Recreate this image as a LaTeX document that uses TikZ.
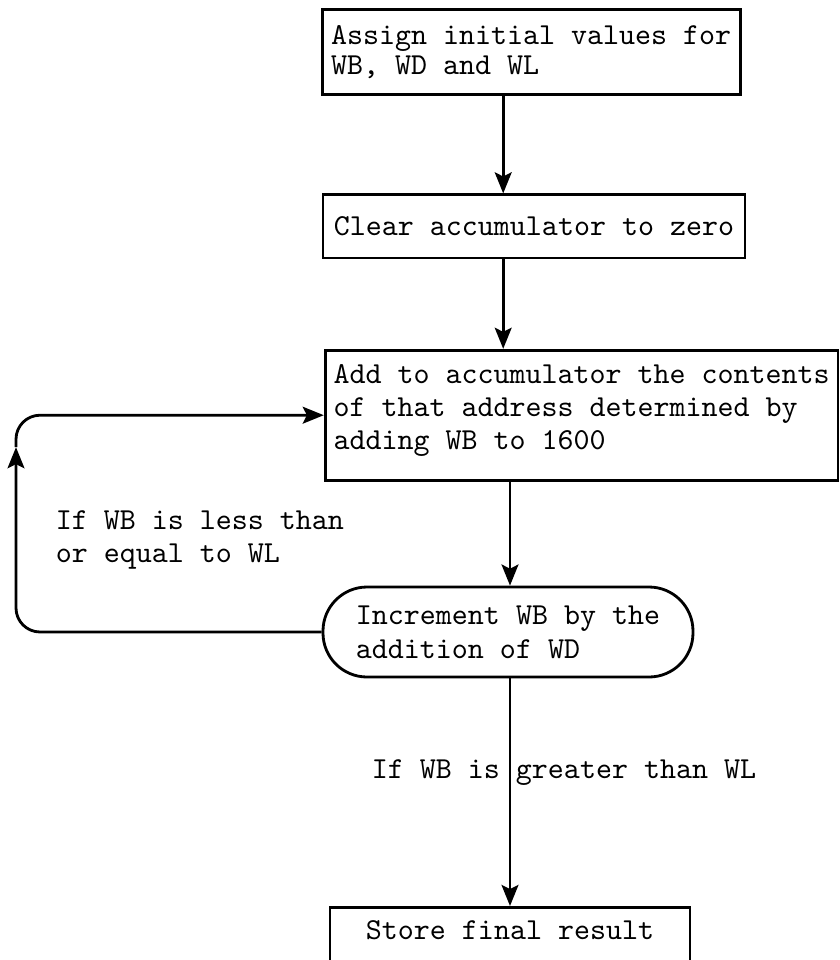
\documentclass[tikz,border=0pt]{standalone}
\usepackage{fontspec}
\usepackage{tikz}
\usetikzlibrary{calc}
\usetikzlibrary{arrows.meta}

\begin{document}
\begin{tikzpicture}[
  procbox/.style={draw, line width=1pt, align=left, inner sep=0pt, font=\ttfamily\fontsize{10.84pt}{11.7pt}\selectfont},
  flowline/.style={line width=1pt, -{Stealth[length=7.5pt,width=6pt,inset=1.5pt]}},
  note/.style={inner sep=0pt, align=left, font=\ttfamily\fontsize{10.84pt}{12pt}\selectfont}
]
\useasboundingbox (0,0) rectangle (10.5,-12);
\clip (0,0) rectangle (10.5,-12);

\coordinate (col_a) at (6.29,0);
\coordinate (col_b) at (6.375,0);
\coordinate (loop_up) at (0.2,-5.59);

\node [procbox, minimum width=5.225cm, minimum height=1.06cm, font=\ttfamily\fontsize{10.84pt}{10.7pt}\selectfont] (assign) at (6.64,-0.65) {Assign initial values for\\WB, WD and WL};
\node [procbox, minimum width=5.275cm, minimum height=0.79cm] (clear) at (6.675,-2.83) {Clear accumulator to zero};
\node [procbox, minimum width=6.41cm, minimum height=1.625cm] (add) at (7.27,-5.19) {Add to accumulator the contents\\of that address determined by\\adding WB to 1600\rule[-0.2cm]{0pt}{0pt}};
\node [procbox, rounded corners=0.55cm, minimum width=4.625cm, minimum height=1.125cm, font=\ttfamily\fontsize{10.84pt}{12pt}\selectfont] (inc) at (6.35,-7.9) {Increment WB by the\\addition of WD};
\node [procbox, anchor=north, minimum width=4.5cm, text height=0.3cm, text depth=0.4cm, inner ysep=0.1cm] (store) at (6.375,-11.325) {Store final result};

\draw [flowline] (assign.south -| col_a) -- (clear.north -| col_a);
\draw [flowline] (clear.south -| col_a) -- (add.north -| col_a);
\draw [flowline] (add.south -| col_b) -- (inc.north -| col_b);
\draw [flowline] (inc.south -| col_b) -- (store.north -| col_b);

% loop back
\draw [flowline, rounded corners=0.3cm] (inc.west) -| (loop_up);
\draw [flowline, rounded corners=0.3cm] (loop_up) |- (add.west);

\node [note, anchor=west] (less) at (0.69,-6.75) {If WB is less than\\or equal to WL};
\node [note] (greater) at (7.05,-9.66) {If WB is greater than WL};

\end{tikzpicture}
\end{document}
